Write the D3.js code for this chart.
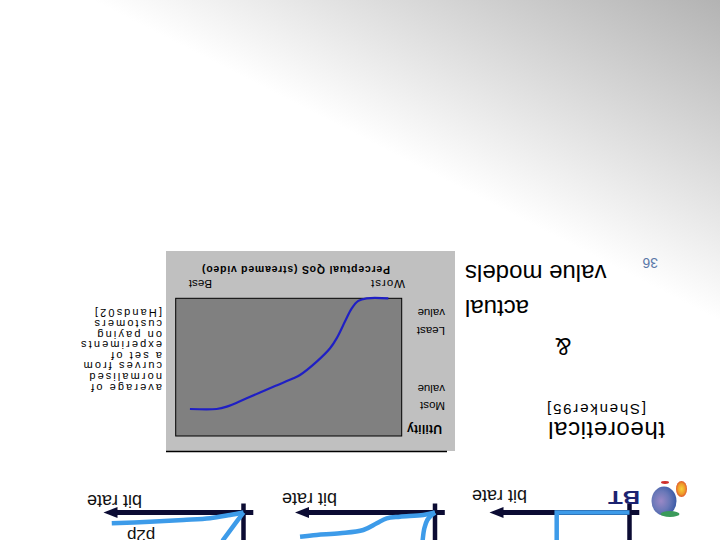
<!DOCTYPE html>
<html><head><meta charset="utf-8">
<script src="https://cdn.jsdelivr.net/npm/d3@7"></script>
<style>
html,body{margin:0;padding:0;background:#fff;overflow:hidden}
svg text{font-family:"Liberation Sans", Arial, Helvetica, "Noto Sans", sans-serif;}
</style>
</head><body><svg id="c" width="720" height="540"></svg>
<script>
// ---------- data ----------
// main chart: perceptual QoS (0 = worst, 1 = best) vs utility (0 = least, 1 = most)
const qosValues = [0.059, 0.155, 0.192, 0.221, 0.251, 0.288, 0.317, 0.376, 0.450, 0.479, 0.568, 0.686, 0.774, 0.819, 0.937];
const utilityValues = [0, 0, 0.019, 0.073, 0.169, 0.291, 0.363, 0.460, 0.557, 0.581, 0.642, 0.726, 0.787, 0.804, 0.804];
const xTickLabels = ["Worst", "Best"];
const xTickValues = [-0.014, 0.84];
const yTickLabels = [["Most", "value"], ["Least", "value"]];
const yTickValues = [0.755, 0.206];
const xAxisTitle = "Perceptual QoS (streamed video)";
const yAxisTitle = "Utility";
const noteLines = ["average of", "normalised", "curves from", "a set of", "experiments", "on paying", "customers", "[Hands02]"];
const titleLines = ["theoretical", "[Shenker95]", "&", "actual", "value models"];
const slideNumber = "36";
// mini utility sketches (bit rate 0..1, utility 0..1)
const miniLabel = "bit rate";
const stepRate = [0, 0.52, 0.52];
const stepUtil = [0, 0, 1.25];
const sigRate = [0, 0.084, 0.25, 0.345, 0.416, 0.512, 0.679, 0.845, 0.964];
const sigUtil = [0, 0.083, 0.14, 0.193, 0.36, 0.583, 0.693, 0.75, 0.807];
const sigSteepRate = [0, 0.024, 0.055, 0.076, 0.088, 0.093];
const sigSteepUtil = [0, 0.083, 0.25, 0.527, 0.917, 1.2];
const elaRate = [0, 0.096, 0.239, 0.43, 0.668, 0.941];
const elaUtil = [0, 0.083, 0.193, 0.25, 0.307, 0.36];
const elaSteepRate = [0, 0.049, 0.146, 0.165];
const elaSteepUtil = [0, 0.307, 0.917, 1.2];
const elaLabel = "p2p";

// ---------- drawing ----------
const svg = d3.select("#c");
const defs = svg.append("defs");
const bg = defs.append("linearGradient").attr("id", "bg").attr("gradientUnits", "userSpaceOnUse")
  .attr("x1", 0).attr("y1", 540).attr("x2", 130).attr("y2", 285.6);
bg.append("stop").attr("offset", 0).attr("stop-color", "#b3b3b3");
bg.append("stop").attr("offset", 1).attr("stop-color", "#ffffff");
const gl = defs.append("radialGradient").attr("id", "globe").attr("cx", 0.62).attr("cy", 0.5).attr("r", 0.62);
gl.append("stop").attr("offset", 0).attr("stop-color", "#9a88c6");
gl.append("stop").attr("offset", 0.55).attr("stop-color", "#6a78b8");
gl.append("stop").attr("offset", 1).attr("stop-color", "#3a5aa6");
const sw = defs.append("radialGradient").attr("id", "swirl").attr("cx", 0.5).attr("cy", 0.5).attr("r", 0.6);
sw.append("stop").attr("offset", 0).attr("stop-color", "#f6d23a");
sw.append("stop").attr("offset", 0.55).attr("stop-color", "#ee9a2a");
sw.append("stop").attr("offset", 1).attr("stop-color", "#d8322a");

// whole slide is shown rotated by 180 degrees
const g = svg.append("g").attr("transform", "rotate(180 360 270)");
g.append("rect").attr("width", 720).attr("height", 540).attr("fill", "url(#bg)");

// ---- main chart panel ----
g.append("rect").attr("x", 265).attr("y", 89).attr("width", 289).attr("height", 200).attr("fill", "#c0c0c0");
g.append("line").attr("x1", 273).attr("x2", 554).attr("y1", 88.5).attr("y2", 88.5).attr("stroke", "#000").attr("stroke-width", 1.5);

const plot = {x0: 318.3, x1: 544.3, y0: 104, y1: 241.7};
const x = d3.scaleLinear().domain([0, 1]).range([plot.x0, plot.x1]);
const y = d3.scaleLinear().domain([0, 1]).range([plot.y1, plot.y0]);
g.append("rect").attr("x", x(0)).attr("y", y(1)).attr("width", x(1) - x(0)).attr("height", y(0) - y(1))
  .attr("fill", "#808080").attr("stroke", "#000").attr("stroke-width", 1);

const pts = qosValues.map((q, i) => [q, utilityValues[i]]);
g.append("path").datum(pts)
  .attr("d", d3.line().x(d => x(d[0])).y(d => y(d[1])).curve(d3.curveCatmullRom.alpha(0.5)))
  .attr("fill", "none").attr("stroke", "#1f1fc4").attr("stroke-width", 2.2);

g.append("text").attr("x", 278).attr("y", 115).text(yAxisTitle)
  .style("font-weight", "bold").style("font-size", "12px").attr("textLength", 35).attr("fill", "#000");

yTickLabels.forEach((lines, i) => {
  const t = g.append("text").style("font-size", "11.5px").attr("fill", "#000");
  lines.forEach((s, j) => t.append("tspan").attr("x", 275).attr("y", y(yTickValues[i]) + j * 17.5).text(s));
});

xTickLabels.forEach((s, i) => {
  g.append("text").attr("x", x(xTickValues[i])).attr("y", 260).text(s)
    .style("font-size", "11.5px").style("letter-spacing", (i === 0 ? 1 : 0) + "px").attr("fill", "#000");
});
g.append("text").attr("x", 330).attr("y", 274.5).text(xAxisTitle)
  .style("font-weight", "bold").style("font-size", "10.5px").attr("textLength", 188).attr("fill", "#000");

// ---- note text ----
const note = g.append("text").style("font-size", "11px").style("letter-spacing", "2.1px").attr("fill", "#000");
noteLines.forEach((s, i) => note.append("tspan").attr("x", 558).attr("y", 156.5 + i * 10.6).text(s));

// ---- title text ----
function bigText(s, xx, yy, anchor, size, spacing) {
  return g.append("text").attr("x", xx).attr("y", yy).attr("text-anchor", anchor).text(s)
    .style("font-size", (size || 24) + "px").style("letter-spacing", (spacing || 0) + "px").attr("fill", "#000");
}
bigText(titleLines[0], 55, 118.3, "start", 24, 0.6);
bigText(titleLines[1], 74, 136, "start", 15, 1.8);
bigText(titleLines[2], 156.7, 202, "middle");
bigText(titleLines[3], 255, 240, "end");
bigText(titleLines[4], 255, 275, "end");
g.append("text").attr("x", 62).attr("y", 282).text(slideNumber)
  .style("font-size", "14px").attr("fill", "#5a78a8");

// ---- mini utility sketches ----
const AX = "#0b0b33", BLUE = "#3d9be9";
function mini(ox, oy, labelX, labelY) {
  const mx = d3.scaleLinear().domain([0, 1]).range([ox, ox + 140]);
  const my = d3.scaleLinear().domain([0, 1]).range([oy, oy - 30]);
  const m = g.append("g");
  m.append("line").attr("x1", mx(0)).attr("x2", mx(0)).attr("y1", my(-0.3)).attr("y2", my(1.3))
    .attr("stroke", AX).attr("stroke-width", 4.5);
  m.append("line").attr("x1", mx(-0.07)).attr("x2", mx(0.93)).attr("y1", my(0)).attr("y2", my(0))
    .attr("stroke", AX).attr("stroke-width", 5);
  m.append("path").attr("d", `M${mx(1)},${my(0)} L${mx(0.9)},${my(0) - 5.5} L${mx(0.9)},${my(0) + 5.5} Z`).attr("fill", AX);
  m.append("text").attr("x", labelX).attr("y", labelY).text(miniLabel)
    .style("font-size", "18px").attr("fill", "#111");
  const line = d3.line().x(d => mx(d[0])).y(d => my(d[1]));
  return {m, mx, my, line};
}
function blue(ch, rx, uy, curve) {
  ch.m.append("path").datum(rx.map((r, i) => [r, uy[i]]))
    .attr("d", ch.line.curve(curve || d3.curveLinear))
    .attr("fill", "none").attr("stroke", BLUE).attr("stroke-width", 4.5).attr("stroke-linejoin", "miter");
}
const A = mini(90.5, 27.5, 193, 50);
blue(A, stepRate, stepUtil);
const B = mini(285, 27.5, 383, 47);
blue(B, sigRate, sigUtil, d3.curveCatmullRom);
blue(B, sigSteepRate, sigSteepUtil, d3.curveCatmullRom);
const C = mini(476.5, 27.5, 578, 45);
blue(C, elaRate, elaUtil, d3.curveCatmullRom);
blue(C, elaSteepRate, elaSteepUtil, d3.curveLinear);
C.m.append("text").attr("x", C.mx(0.63)).attr("y", 10.5).text(elaLabel)
  .style("font-size", "17px").attr("fill", "#111");

// ---- BT logo ----
g.append("text").attr("x", 80).attr("y", 48.7).text("BT")
  .style("font-weight", "bold").style("font-size", "19px")
  .attr("textLength", 32).attr("lengthAdjust", "spacingAndGlyphs").attr("fill", "#1b2370");
g.append("ellipse").attr("cx", 56).attr("cy", 39).attr("rx", 12.5).attr("ry", 14.5).attr("fill", "url(#globe)");
g.append("ellipse").attr("cx", 50).attr("cy", 26).attr("rx", 9.5).attr("ry", 3).attr("fill", "#3a9a5a");
g.append("ellipse").attr("cx", 38.5).attr("cy", 51).attr("rx", 5.5).attr("ry", 8).attr("fill", "url(#swirl)");
g.append("ellipse").attr("cx", 55).attr("cy", 57.5).attr("rx", 4).attr("ry", 1.4).attr("fill", "#d0302c");
</script></body></html>
